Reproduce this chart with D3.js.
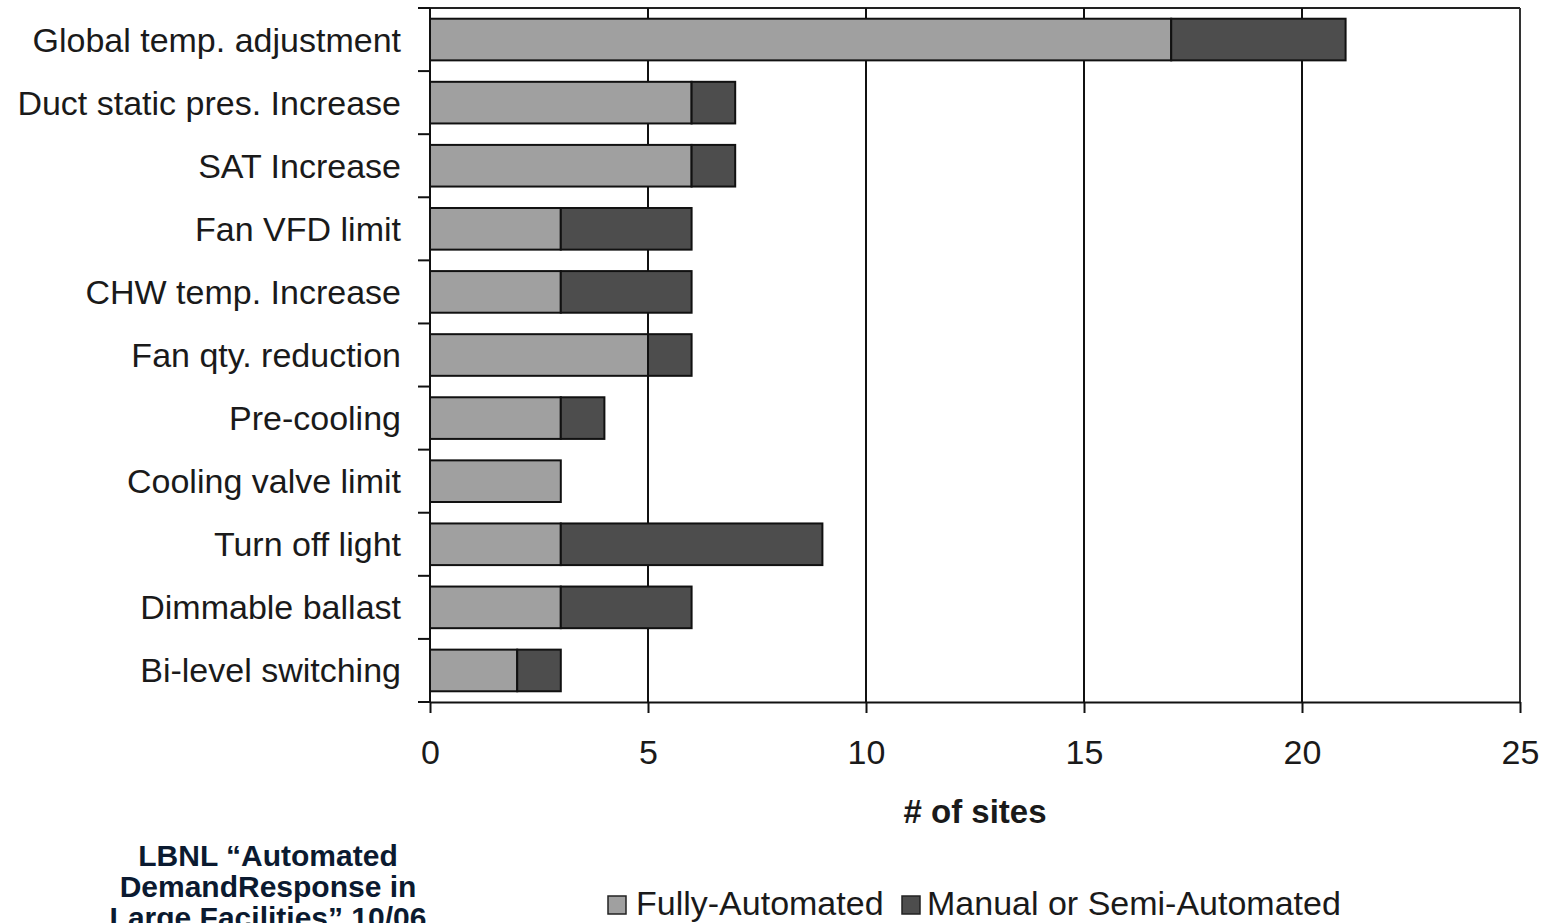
<!DOCTYPE html>
<html>
<head>
<meta charset="utf-8">
<script src="https://cdn.jsdelivr.net/npm/d3@7"></script>
<style>
  html, body { margin: 0; padding: 0; background: #fff; }
  svg { display: block; }
  text { font-family: "Liberation Sans", Arial, sans-serif; }
</style>
</head>
<body>
<svg id="chart" width="1545" height="923"></svg>
<script>
const categories = [
  "Global temp. adjustment",
  "Duct static pres. Increase",
  "SAT Increase",
  "Fan VFD limit",
  "CHW temp. Increase",
  "Fan qty. reduction",
  "Pre-cooling",
  "Cooling valve limit",
  "Turn off light",
  "Dimmable ballast",
  "Bi-level switching"
];
const fullyAutomated = [17, 6, 6, 3, 3, 5, 3, 3, 3, 3, 2];
const manualSemi     = [4, 1, 1, 3, 3, 1, 1, 0, 6, 3, 1];
const seriesNames = ["Fully-Automated", "Manual or Semi-Automated"];
const xTicks = [0, 5, 10, 15, 20, 25];
const xTitle = "# of sites";
const noteLines = ["LBNL \u201cAutomated", "DemandResponse in", "Large Facilities\u201d 10/06"];

const colors = ["#a0a0a0", "#4d4d4d"];

const svg = d3.select("#chart");
const pLeft = 430, pRight = 1520, pTop = 8, pBottom = 702;

const x = d3.scaleLinear().domain([0, 25]).range([pLeft, pRight]);
const y = d3.scaleBand().domain(categories).range([pTop, pBottom])
  .paddingInner(0.34).paddingOuter(0.17);

// frame: top line
svg.append("line").attr("x1", pLeft - 12).attr("x2", pRight).attr("y1", pTop).attr("y2", pTop)
  .attr("stroke", "#222").attr("stroke-width", 2);

// vertical gridlines
svg.append("g").selectAll("line").data(xTicks.filter(d => d > 0)).join("line")
  .attr("x1", d => x(d)).attr("x2", d => x(d))
  .attr("y1", pTop).attr("y2", pBottom)
  .attr("stroke", d => d === 25 ? "#333" : "#111").attr("stroke-width", 2);

// stacked bars
const stackData = categories.map((c, i) => ({cat: c, a: fullyAutomated[i], b: manualSemi[i]}));
const stack = d3.stack().keys(["a", "b"])(stackData);
const gBars = svg.append("g");
stack.forEach((layer, k) => {
  gBars.selectAll(null).data(layer.filter(d => d[1] > d[0])).join("rect")
    .attr("x", d => x(d[0]))
    .attr("y", d => y(d.data.cat))
    .attr("width", d => x(d[1]) - x(d[0]))
    .attr("height", y.bandwidth())
    .attr("fill", colors[k])
    .attr("stroke", "#111")
    .attr("stroke-width", 2);
});

// y axis (ticks at band boundaries)
const boundaries = categories.map(c => y(c) - y.step() * y.paddingInner() / 2);
boundaries.push(pBottom);
svg.append("line").attr("x1", pLeft).attr("x2", pLeft).attr("y1", pTop).attr("y2", pBottom)
  .attr("stroke", "#111").attr("stroke-width", 2);
svg.append("g").selectAll("line").data(boundaries).join("line")
  .attr("x1", pLeft - 12).attr("x2", pLeft).attr("y1", d => d).attr("y2", d => d)
  .attr("stroke", "#111").attr("stroke-width", 2);

// category labels
svg.append("g").selectAll("text").data(categories).join("text")
  .attr("x", 401)
  .attr("y", d => y(d) + y.bandwidth() / 2)
  .attr("text-anchor", "end")
  .attr("dominant-baseline", "central")
  .attr("font-size", 34)
  .attr("fill", "#1a1a1a")
  .text(d => d);

// x axis
const xAxis = d3.axisBottom(x).tickValues(xTicks).tickSize(11).tickPadding(27).tickSizeOuter(0);
const gx = svg.append("g").attr("transform", `translate(0,${pBottom})`).call(xAxis);
gx.select(".domain").attr("stroke", "#111").attr("stroke-width", 2);
gx.selectAll(".tick line").attr("stroke", "#111").attr("stroke-width", 2);
gx.selectAll(".tick text")
  .attr("font-family", "'Liberation Sans', Arial, sans-serif")
  .attr("font-size", 34).attr("fill", "#1a1a1a");

// x title
svg.append("text").attr("x", (pLeft + pRight) / 2).attr("y", 823)
  .attr("text-anchor", "middle").attr("font-size", 33).attr("font-weight", "bold")
  .attr("fill", "#1a1a1a").text(xTitle);

// legend
const legendItems = [
  {name: seriesNames[0], color: colors[0], sx: 608, tx: 636},
  {name: seriesNames[1], color: colors[1], sx: 902, tx: 927}
];
const lg = svg.append("g");
legendItems.forEach(d => {
  lg.append("rect").attr("x", d.sx).attr("y", 896).attr("width", 18).attr("height", 18)
    .attr("fill", d.color).attr("stroke", "#222").attr("stroke-width", 1.5);
  lg.append("text").attr("x", d.tx).attr("y", 915).attr("font-size", 34)
    .attr("fill", "#1a1a1a").text(d.name);
});

// source note
svg.append("g").selectAll("text").data(noteLines).join("text")
  .attr("x", 268).attr("y", (d, i) => 866 + i * 31)
  .attr("text-anchor", "middle").attr("font-size", 30).attr("font-weight", "bold")
  .attr("fill", "#0b1a30").text(d => d);
</script>
</body>
</html>
